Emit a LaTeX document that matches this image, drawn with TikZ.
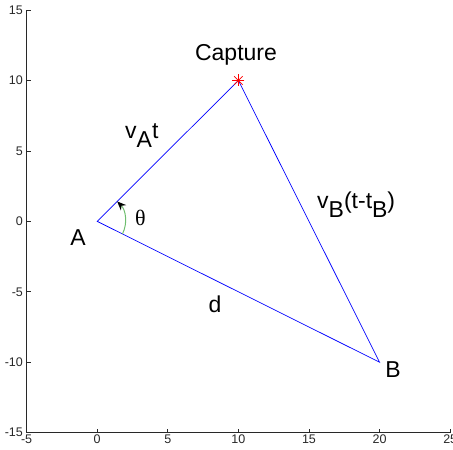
\documentclass[tikz,border=0pt]{standalone}
\usepackage{fontspec}
\setmainfont{Liberation Sans}
\newfontfamily\symfont{Liberation Serif}
\usetikzlibrary{arrows.meta}
\definecolor{linblue}{RGB}{0,0,255}
\definecolor{arcgreen}{RGB}{110,190,110}
\definecolor{axgray}{RGB}{40,40,40}
\begin{document}
\begin{tikzpicture}[x=1pt,y=1pt,
  edge/.style={draw=linblue,line width=0.7pt},
  axis/.style={draw=axgray,line width=0.9pt},
  ticklab/.style={font=\fontsize{12.5}{12.5}\selectfont,text=axgray,inner sep=0pt},
  lab/.style={font=\fontsize{23}{24}\selectfont,inner sep=0pt}]
\useasboundingbox (0,-450) rectangle (453,0);
\begin{scope}[shift={(97.2pt,-221.35pt)},x=14.12pt,y=14.09pt]
  % axes
  \coordinate (o) at (-5,-15);
  \coordinate (xe) at (25,-15);
  \coordinate (ye) at (-5,15);
  \draw[axis] (xe) -- (o) -- (ye);
  \foreach \t in {-5,0,5,10,15,20,25}{
    \draw[axis,line width=0.7pt] (\t,-15) -- ++(0,4pt);
    \node[ticklab,anchor=north] (xl\t) at ([yshift=-2pt]\t,-15) {\t};
  }
  \foreach \t in {-15,-10,-5,0,5,10,15}{
    \draw[axis,line width=0.7pt] (-5,\t) -- ++(4pt,0);
    \node[ticklab,anchor=east] (yl\t) at ([xshift=-3.5pt]-5,\t) {\t};
  }
  % triangle
  \coordinate (A) at (0,0);
  \coordinate (B) at (20,-10);
  \coordinate (C) at (10,10);
  \draw[edge] (A) -- (C) -- (B) -- cycle;
  % angle arc
  \draw[draw=arcgreen,line width=1pt,-{Stealth[color=black,length=9pt,width=7.5pt]}]
    ([shift={(-26.57:2)}]A) arc[start angle=-26.57,end angle=45,x radius=2,y radius=2];
  % capture star
  \foreach \a in {0,45,90,135}{
    \draw[red,line width=0.7pt] ([shift={(\a:6pt)}]C) -- ([shift={(\a+180:6pt)}]C);
  }
\end{scope}
% labels (pixel positions)
\node[lab] (cap) at (236,-55) {Capture};
\node[lab,anchor=base west] (va) at (125,-138) {v\raisebox{-0.42em}{A}t};
\node[lab,anchor=base west] (vb) at (317,-208) {v\raisebox{-0.42em}{B}(t-t\raisebox{-0.42em}{B})};
\node[lab] (dl) at (215,-304) {d};
\node[lab] (Bl) at (393,-370) {B};
\node[lab] (Al) at (78,-238) {A};
\node[font=\fontsize{22}{22}\selectfont\symfont,inner sep=0pt] (th) at (140.5,-217.5) {θ};
\end{tikzpicture}
\end{document}
